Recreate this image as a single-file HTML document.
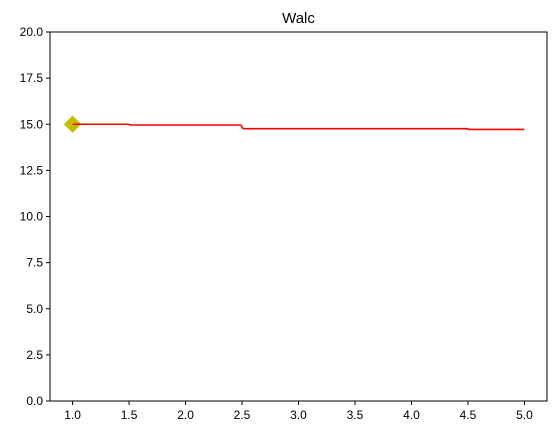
<!DOCTYPE html>
<html><head><meta charset="utf-8"><style>
body{margin:0;background:#fff;font-family:"Liberation Sans","DejaVu Sans",sans-serif;}
text{font-family:"Liberation Sans","DejaVu Sans",sans-serif;}
</style></head><body>
<svg id="chart" width="556" height="435" xmlns="http://www.w3.org/2000/svg">
<rect width="556" height="435" fill="#fff"/>
<text x="298.5" y="23" font-size="15" text-anchor="middle">Walc</text>
<g id="axes"></g>
<rect x="50" y="32" width="497" height="369" fill="none" stroke="#000" stroke-width="1"/>
</svg>
<script>
const xs=[1,1.49,1.51,2.49,2.51,4.49,4.51,5];
const ys=[15.0,15.0,14.96,14.96,14.76,14.76,14.72,14.72];
const markerX=[1];
const markerY=[15.0];
const xTicks=[1.0,1.5,2.0,2.5,3.0,3.5,4.0,4.5,5.0];
const yTicks=[0.0,2.5,5.0,7.5,10.0,12.5,15.0,17.5,20.0];
const X0=50,X1=547,Y0=401,Y1=32,xmin=0.8,xmax=5.2,ymin=0,ymax=20;
const sx=v=>X0+(v-xmin)/(xmax-xmin)*(X1-X0);
const sy=v=>Y0-(v-ymin)/(ymax-ymin)*(Y0-Y1);
const ns="http://www.w3.org/2000/svg";
const g=document.getElementById('axes');
function mk(t,a){const e=document.createElementNS(ns,t);for(const k in a)e.setAttribute(k,a[k]);g.appendChild(e);return e;}
xTicks.forEach(v=>{
 const l=mk('line',{x1:sx(v),x2:sx(v),y1:Y0,y2:Y0+4,stroke:'#000'});
 
 
 const t=mk('text',{x:sx(v),y:Y0+18,'font-size':12,'text-anchor':'middle'});
 t.textContent=v.toFixed(1);
 
 
});
yTicks.forEach(v=>{
 const l=mk('line',{x1:X0-4,x2:X0,y1:sy(v),y2:sy(v),stroke:'#000'});
 
 
 const t=mk('text',{x:X0-7,y:sy(v)+4,'font-size':12,'text-anchor':'end'});
 t.textContent=v.toFixed(1);
 
 
});
const p=mk('polyline',{points:xs.map((x,i)=>sx(x)+','+sy(ys[i])).join(' '),fill:'none',stroke:'#ff0000','stroke-width':1.6});


markerX.forEach((x,i)=>{
 const cx=sx(x),cy=sy(markerY[i]),r=8;
 const m=mk('polygon',{points:`${cx},${cy-r} ${cx+r},${cy} ${cx},${cy+r} ${cx-r},${cy}`,fill:'#bfbf00',stroke:'#bfbf00','stroke-width':1,'stroke-linejoin':'round'});
 
 
 g.appendChild(p);
});
</script>
</body></html>
